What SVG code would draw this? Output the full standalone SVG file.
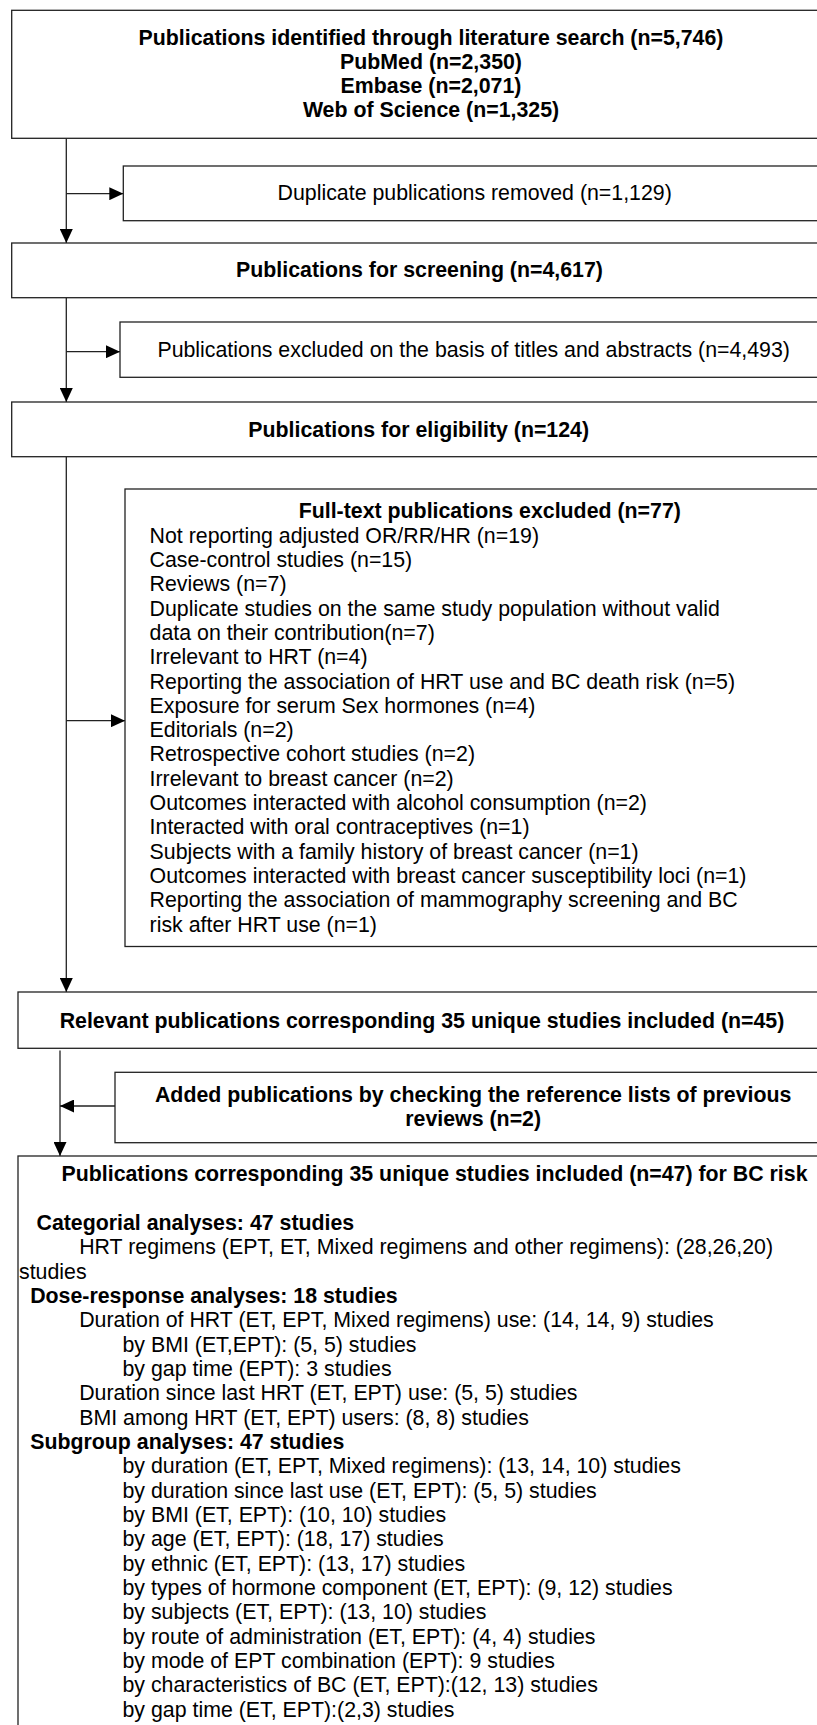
<svg xmlns="http://www.w3.org/2000/svg" width="817" height="1725" viewBox="0 0 817 1725">
<defs>
<style>
.box{fill:#fff;stroke:#222;stroke-width:1.3}
.ln{fill:none;stroke:#222;stroke-width:1.3}
text{font-family:"Liberation Sans",Arial,sans-serif;font-size:21.33px;fill:#000}
.b{font-weight:bold}
.c{text-anchor:middle}
</style>
<marker id="ah" markerWidth="14" markerHeight="13" refX="14" refY="6.5" orient="auto" markerUnits="userSpaceOnUse">
<path d="M0,0 L14,6.5 L0,13 z" fill="#000"/>
</marker>
</defs>
<rect width="817" height="1725" fill="#fff"/>

<g id="connectors">
<line class="ln" x1="66.3" y1="138.3" x2="66.3" y2="243" marker-end="url(#ah)"/>
<line class="ln" x1="66.3" y1="193.7" x2="123.3" y2="193.7" marker-end="url(#ah)"/>
<line class="ln" x1="66.3" y1="297.7" x2="66.3" y2="402" marker-end="url(#ah)"/>
<line class="ln" x1="66.3" y1="351.7" x2="120" y2="351.7" marker-end="url(#ah)"/>
<line class="ln" x1="66.3" y1="456.7" x2="66.3" y2="992" marker-end="url(#ah)"/>
<line class="ln" x1="66.3" y1="720.7" x2="125" y2="720.7" marker-end="url(#ah)"/>
<line class="ln" x1="60" y1="1050.5" x2="60" y2="1156" marker-end="url(#ah)"/>
<line class="ln" x1="115" y1="1106" x2="60" y2="1106" marker-end="url(#ah)"/>
</g>

<g id="n-search">
<rect class="box" x="11.7" y="10.3" width="900" height="128"/>
<text class="b c" x="431" y="45">Publications identified through literature search (n=5,746)</text>
<text class="b c" x="431" y="69.3">PubMed (n=2,350)</text>
<text class="b c" x="431" y="93.3">Embase (n=2,071)</text>
<text class="b c" x="431" y="117.3">Web of Science (n=1,325)</text>
</g>

<g id="n-duplicates">
<rect class="box" x="123.3" y="166" width="800" height="54.7"/>
<text class="c" x="474.7" y="200">Duplicate publications removed (n=1,129)</text>
</g>

<g id="n-screening">
<rect class="box" x="11.7" y="243" width="900" height="54.7"/>
<text class="b c" x="419.5" y="277.3">Publications for screening (n=4,617)</text>
</g>

<g id="n-excluded-ta">
<rect class="box" x="120" y="322" width="800" height="55.3"/>
<text class="c" x="473.7" y="357.3">Publications excluded on the basis of titles and abstracts (n=4,493)</text>
</g>

<g id="n-eligibility">
<rect class="box" x="11.7" y="402" width="900" height="54.7"/>
<text class="b c" x="418.7" y="436.7">Publications for eligibility (n=124)</text>
</g>

<g id="n-fulltext-excluded">
<rect class="box" x="125" y="489" width="800" height="457.5"/>
<text class="b c" x="489.8" y="518.3">Full-text publications excluded (n=77)</text>
<text x="149.6" y="542.7">Not reporting adjusted OR/RR/HR (n=19)</text>
<text x="149.6" y="567">Case-control studies (n=15)</text>
<text x="149.6" y="591.3">Reviews (n=7)</text>
<text x="149.6" y="615.6">Duplicate studies on the same study population without valid</text>
<text x="149.6" y="639.9">data on their contribution(n=7)</text>
<text x="149.6" y="664.2">Irrelevant to HRT (n=4)</text>
<text x="149.6" y="688.5">Reporting the association of HRT use and BC death risk (n=5)</text>
<text x="149.6" y="712.8">Exposure for serum Sex hormones (n=4)</text>
<text x="149.6" y="737.1">Editorials (n=2)</text>
<text x="149.6" y="761.4">Retrospective cohort studies (n=2)</text>
<text x="149.6" y="785.7">Irrelevant to breast cancer (n=2)</text>
<text x="149.6" y="810">Outcomes interacted with alcohol consumption (n=2)</text>
<text x="149.6" y="834.3">Interacted with oral contraceptives (n=1)</text>
<text x="149.6" y="858.6">Subjects with a family history of breast cancer (n=1)</text>
<text x="149.6" y="882.9">Outcomes interacted with breast cancer susceptibility loci (n=1)</text>
<text x="149.6" y="907.2">Reporting the association of mammography screening and BC</text>
<text x="149.6" y="931.5">risk after HRT use (n=1)</text>
</g>

<g id="n-relevant">
<rect class="box" x="18" y="992" width="900" height="56.3"/>
<text class="b c" x="422" y="1028.3">Relevant publications corresponding 35 unique studies included (n=45)</text>
</g>

<g id="n-added">
<rect class="box" x="115" y="1072.3" width="800" height="70.4"/>
<text class="b c" x="473.2" y="1102">Added publications by checking the reference lists of previous</text>
<text class="b c" x="473.2" y="1126">reviews (n=2)</text>
</g>

<g id="n-final">
<rect class="box" x="18" y="1156" width="900" height="700"/>
<text class="b" x="61.5" y="1181.3">Publications corresponding 35 unique studies included (n=47) for BC risk</text>
<text class="b" x="36.5" y="1230">Categorial analyses: 47 studies</text>
<text x="79.2" y="1254.4">HRT regimens (EPT, ET, Mixed regimens and other regimens): (28,26,20)</text>
<text x="19" y="1278.7">studies</text>
<text class="b" x="30.2" y="1303">Dose-response analyses: 18 studies</text>
<text x="79.2" y="1327.4">Duration of HRT (ET, EPT, Mixed regimens) use: (14, 14, 9) studies</text>
<text x="122.5" y="1351.7">by BMI (ET,EPT): (5, 5) studies</text>
<text x="122.5" y="1376">by gap time (EPT): 3 studies</text>
<text x="79.2" y="1400.4">Duration since last HRT (ET, EPT) use: (5, 5) studies</text>
<text x="79.2" y="1424.7">BMI among HRT (ET, EPT) users: (8, 8) studies</text>
<text class="b" x="30.2" y="1449">Subgroup analyses: 47 studies</text>
<text x="122.5" y="1473.4">by duration (ET, EPT, Mixed regimens): (13, 14, 10) studies</text>
<text x="122.5" y="1497.7">by duration since last use (ET, EPT): (5, 5) studies</text>
<text x="122.5" y="1522">by BMI (ET, EPT): (10, 10) studies</text>
<text x="122.5" y="1546.4">by age (ET, EPT): (18, 17) studies</text>
<text x="122.5" y="1570.7">by ethnic (ET, EPT): (13, 17) studies</text>
<text x="122.5" y="1595">by types of hormone component (ET, EPT): (9, 12) studies</text>
<text x="122.5" y="1619.4">by subjects (ET, EPT): (13, 10) studies</text>
<text x="122.5" y="1643.7">by route of administration (ET, EPT): (4, 4) studies</text>
<text x="122.5" y="1668">by mode of EPT combination (EPT): 9 studies</text>
<text x="122.5" y="1692.4">by characteristics of BC (ET, EPT):(12, 13) studies</text>
<text x="122.5" y="1716.7">by gap time (ET, EPT):(2,3) studies</text>
</g>
</svg>
